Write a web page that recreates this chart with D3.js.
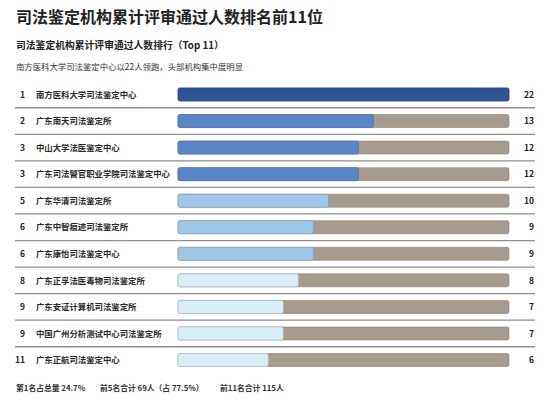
<!DOCTYPE html>
<html>
<head>
<meta charset="utf-8">
<script src="https://cdn.jsdelivr.net/npm/d3@7"></script>
<style>
  body { margin: 0; background: #fff; }
  svg { display: block; font-family: "Noto Sans CJK SC", "Noto Sans", sans-serif; }
</style>
</head>
<body>
<div id="chart"></div>
<script>
// data
var ranks = ["1", "2", "3", "3", "5", "6", "6", "8", "9", "9", "11"];
var names = ["南方医科大学司法鉴定中心", "广东南天司法鉴定所", "中山大学法医鉴定中心",
  "广东司法警官职业学院司法鉴定中心", "广东华清司法鉴定所", "广东中智痕迹司法鉴定所",
  "广东康怡司法鉴定中心", "广东正孚法医毒物司法鉴定所", "广东安证计算机司法鉴定所",
  "中国广州分析测试中心司法鉴定所", "广东正航司法鉴定中心"];
var values = [22, 13, 12, 12, 10, 9, 9, 8, 7, 7, 6];
var tiers = [0, 1, 1, 1, 2, 2, 2, 3, 3, 3, 3];
var tierColors = ["#2c5592", "#5b86c6", "#9ec6e8", "#d9edf7"];
var footer = ["第1名占总量 24.7%", "前5名合计 69人（占 77.5%）", "前11名合计 115人"];

var width = 550, height = 406;

var svg = d3.select("#chart").append("svg")
  .attr("width", width)
  .attr("height", height);

svg.append("text").attr("x", 16).attr("y", 23)
  .attr("font-size", 16).attr("font-weight", "bold").attr("fill", "#222")
  .text("司法鉴定机构累计评审通过人数排名前11位");
svg.append("text").attr("x", 16).attr("y", 49)
  .attr("font-size", 9.8).attr("font-weight", "bold").attr("fill", "#222")
  .text("司法鉴定机构累计评审通过人数排行（Top 11）");
svg.append("text").attr("x", 16).attr("y", 70)
  .attr("font-size", 8.4).attr("fill", "#333")
  .text("南方医科大学司法鉴定中心以22人领跑，头部机构集中度明显");

var idx = d3.range(values.length);
var y = d3.scaleBand().domain(idx).range([81.2, 373.3]);
var x = d3.scaleLinear().domain([0, d3.max(values)]).range([178, 509]);
var barH = 13;

// separators between rows
svg.selectAll(".sep")
  .data(idx.slice(1))
  .enter().append("line")
  .attr("x1", 15).attr("x2", 535)
  .attr("y1", function(d) { return y(d); })
  .attr("y2", function(d) { return y(d); })
  .attr("stroke", "#8f8f8f")
  .attr("stroke-width", 1.3);

var row = svg.selectAll(".row")
  .data(idx)
  .enter().append("g")
  .attr("transform", function(d) { return "translate(0," + (y(d) + y.bandwidth() / 2) + ")"; });

row.append("text")
  .attr("x", 25).attr("y", 3.2)
  .attr("text-anchor", "end")
  .attr("font-size", 8.5).attr("font-weight", "bold").attr("fill", "#222")
  .text(function(d) { return ranks[d]; });

row.append("text")
  .attr("x", 36).attr("y", 3.2)
  .attr("font-size", 8.4).attr("font-weight", "bold").attr("fill", "#2a2a2a")
  .text(function(d) { return names[d]; });

// grey track
row.append("rect")
  .attr("x", x(0)).attr("y", -barH / 2)
  .attr("width", x(d3.max(values)) - x(0)).attr("height", barH)
  .attr("rx", 2)
  .attr("fill", "#a69b8e")
  .attr("stroke", "#8a8178").attr("stroke-width", 0.6);

// value fill
row.append("rect")
  .attr("x", x(0)).attr("y", -barH / 2)
  .attr("width", function(d) { return x(values[d]) - x(0); })
  .attr("height", barH)
  .attr("rx", 2)
  .attr("fill", function(d) { return tierColors[tiers[d]]; })
  .attr("stroke", function(d) { return d3.color(tierColors[tiers[d]]).darker(0.6); })
  .attr("stroke-width", 0.6);

row.append("text")
  .attr("x", 534).attr("y", 3.2)
  .attr("text-anchor", "end")
  .attr("font-size", 8.5).attr("font-weight", "bold").attr("fill", "#222")
  .text(function(d) { return values[d]; });

var fx = [16, 100, 220];
svg.selectAll(".foot")
  .data(footer)
  .enter().append("text")
  .attr("x", function(d, i) { return fx[i]; })
  .attr("y", 391)
  .attr("font-size", 7.8).attr("font-weight", "bold").attr("fill", "#333")
  .text(function(d) { return d; });
</script>
</body>
</html>
